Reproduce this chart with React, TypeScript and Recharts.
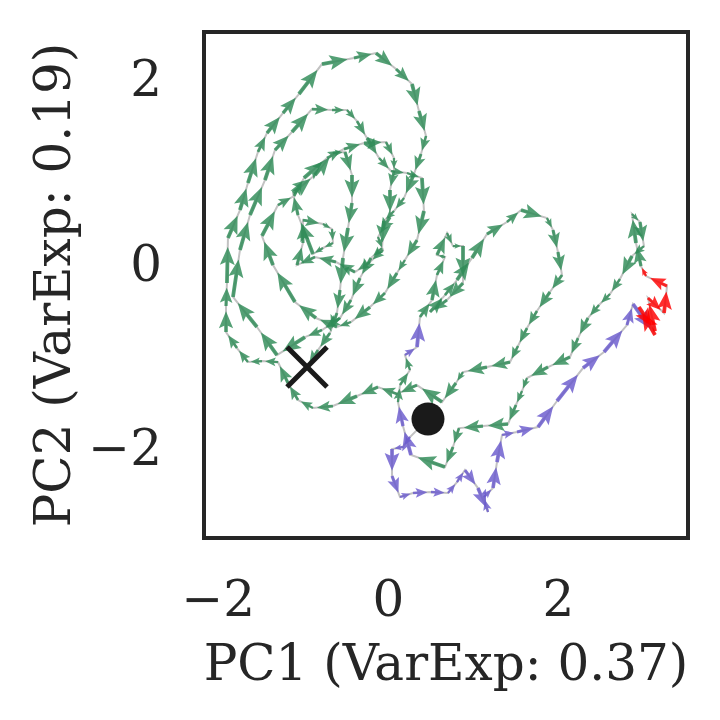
import React from 'react';
import { ScatterChart, Scatter, XAxis, YAxis, ReferenceArea } from 'recharts';

// trajectory in PC space (start = first point, end = last point)
const PC1 = [
  0.467, 0.255, 0.173, 0.044, 0.044, 0.138, 0.291, 0.502, 0.702, 0.808,
  0.902, 1.055, 1.173, 1.126, 1.232, 1.279, 1.338, 1.514, 1.761, 1.985,
  2.291, 2.538, 2.808, 2.879, 3.138, 2.949, 3.138, 3.055, 3.244, 3.279,
  3.032, 2.973,
  2.914, 2.867, 2.961, 3.008, 2.867, 2.726, 2.608, 2.479, 2.349, 2.232,
  2.138, 1.879, 1.632, 1.573, 1.502, 1.408, 1.114, 0.832, 0.761, 0.667,
  0.267, 0.173, 0.114, 0.138, 0.255, 0.196, 0.338, 0.373, 0.514, 0.573,
  0.667, 0.573, 0.691, 0.761, 0.879, 0.879, 0.691, 0.491, 0.667, 0.808,
  0.985, 1.161, 1.396, 1.561, 1.867, 1.938, 1.996, 2.044, 1.902, 1.749,
  1.632, 1.526, 1.432, 1.161, 0.879, 0.796, 0.632, 0.338, 0.102, -0.121,
  -0.368, -0.651, -0.886, -1.062, -1.18, -1.298, -1.486, -1.651, -1.78, -1.909,
  -1.909, -1.898, -1.886, -1.745, -1.651, -1.533, -1.427, -1.239, -1.051, -0.78,
  -0.404, -0.145, 0.091, 0.279, 0.361, 0.444, 0.385, 0.302, 0.185, 0.067,
  -0.051, -0.074, -0.204, -0.333, -0.439, -0.568, -0.78, -0.98, -1.309, -1.545,
  -1.827, -1.745, -1.627, -1.451, -1.333, -1.133, -0.898, -0.662, -0.486, -0.368,
  -0.251, -0.109, 0.032, 0.22, 0.396, 0.42, 0.338, 0.196, 0.102, -0.039,
  -0.215, -0.439, -0.604, -0.851, -1.098, -1.356, -1.486, -1.298, -1.109, -0.992,
  -0.721, -0.521, -0.286, -0.027, 0.067, 0.067, 0.02, 0.02, -0.121, -0.062,
  -0.215, -0.392, -0.615, -0.862, -1.074, -1.004, -1.004, -0.768, -0.662, -0.651,
  -0.768, -0.886, -1.062, -1.121, -0.862, -0.651, -0.509, -0.427, -0.427, -0.474,
  -0.533, -0.568, -0.604, -0.686, -0.827, -0.956,
];

const PC2 = [
  -1.69, -1.885, -1.993, -2.015, -2.308, -2.535, -2.492, -2.481, -2.492, -2.373,
  -2.243, -2.438, -2.698, -2.535, -2.438, -2.156, -1.863, -1.831, -1.777, -1.495,
  -1.138, -0.964, -0.672, -0.444, -0.78, -0.477, -0.737, -0.379, -0.542, -0.249,
  -0.141, -0.033,
  0.217, 0.531, 0.444, 0.184, 0.076, -0.173, -0.336, -0.455, -0.596, -0.813,
  -1.018, -1.127, -1.246, -1.387, -1.538, -1.744, -1.766, -1.788, -1.993, -2.21,
  -2.08, -1.766, -1.506, -1.322, -1.159, -0.997, -0.91, -0.585, -0.401, -0.13,
  0.065, 0.087, 0.325, 0.184, 0.184, -0.217, -0.401, -0.531, -0.347, -0.184,
  0.054, 0.314, 0.444, 0.574, 0.488, 0.358, 0.119, -0.13, -0.314, -0.52,
  -0.704, -0.899, -1.073, -1.127, -1.181, -1.3, -1.506, -1.322, -1.419, -1.343,
  -1.441, -1.549, -1.571, -1.484, -1.3, -1.073, -1.062, -1.073, -0.921, -0.748,
  -0.466, -0.217, 0.271, 0.574, 0.867, 1.203, 1.408, 1.625, 1.831, 2.156,
  2.221, 2.275, 2.102, 1.939, 1.647, 1.376, 1.181, 0.964, 0.704, 0.563,
  0.455, 0.163, 0.054, -0.163, -0.401, -0.596, -0.726, -0.802, -0.997, -0.693,
  -0.368, 0.141, 0.52, 0.899, 1.224, 1.419, 1.668, 1.658, 1.658, 1.538,
  1.354, 1.138, 0.997, 0.975, 0.921, 0.563, 0.249, 0.033, -0.108, -0.325,
  -0.477, -0.639, -0.693, -0.596, -0.423, -0.022, 0.293, 0.628, 0.726, 0.921,
  1.138, 1.235, 1.3, 1.311, 1.138, 0.997, 0.791, 0.498, 0.282, 0.141,
  0.011, -0.098, 0.011, 0.065, -0.022, 0.217, 0.466, 0.423, 0.368, 0.217,
  0.163, 0.098, 0.52, 0.758, 0.953, 1.192, 1.203, 0.953, 0.65, 0.379,
  0.054, -0.293, -0.542, -0.758, -0.943, -1.127,
];

// state label of each point, as runs: [state, count]
const STATE_RUNS: [string, number][] = [
  ['p', 24], ['r', 7], ['g', 21], ['p', 2], ['g', 3], ['p', 2], ['g', 139],
];

const X_DOMAIN = [-2.168, 3.526];
const Y_DOMAIN = [-2.979, 2.503];
const X_TICKS = [-2, 0, 2];
const Y_TICKS = [-2, 0, 2];

const COLORS: Record<string, string> = { g: '#2e8b57', p: '#6a5acd', r: '#ff0000' };
const TEXT = '#262626';

const W = 720;
const H = 720;
const MARGIN = { top: 32, right: 32, bottom: 32, left: 24 };
const Y_AXIS_W = 180;
const X_AXIS_H = 150;
const PLOT_W = W - MARGIN.left - MARGIN.right - Y_AXIS_W;
const PLOT_H = H - MARGIN.top - MARGIN.bottom - X_AXIS_H;
const KX = PLOT_W / (X_DOMAIN[1] - X_DOMAIN[0]);
const KY = PLOT_H / (Y_DOMAIN[1] - Y_DOMAIN[0]);
const ARROW_FRAC = 0.8;

const STATES: string[] = STATE_RUNS.flatMap(([s, n]) => Array(n).fill(s));

const path = PC1.map((x, i) => {
  const last = i === PC1.length - 1;
  return {
    x,
    y: PC2[i],
    dx: last ? 0 : PC1[i + 1] - x,
    dy: last ? 0 : PC2[i + 1] - PC2[i],
    state: STATES[i],
    arrow: !last && i > 0,
  };
});

const start = [{ x: PC1[0], y: PC2[0] }];
const end = [{ x: PC1[PC1.length - 1], y: PC2[PC2.length - 1] }];

const fmt = (v: number) => (v < 0 ? '\u2212' + Math.abs(v) : String(v));

// quiver style arrow from the point towards the next one
function renderArrow(props: any) {
  const { cx, cy, payload } = props;
  if (!payload || !payload.arrow) return <g />;
  const vx = payload.dx * KX * ARROW_FRAC;
  const vy = -payload.dy * KY * ARROW_FRAC;
  const len = Math.hypot(vx, vy);
  if (len < 0.5) return <g />;
  const ux = vx / len;
  const uy = vy / len;
  const nx = -uy;
  const ny = ux;
  const s = Math.min(1, len / 22);
  const w = (3.8 * Math.max(s, 0.6)) / 2;
  const hl = 18 * s;
  const hw = 7.5 * s;
  const pt = (d: number, o: number) => `${cx + ux * d + nx * o},${cy + uy * d + ny * o}`;
  const pts = [
    pt(0, w), pt(len - hl * 0.85, w), pt(len - hl, hw), pt(len, 0),
    pt(len - hl, -hw), pt(len - hl * 0.85, -w), pt(0, -w),
  ].join(' ');
  return <polygon points={pts} fill={COLORS[payload.state]} fillOpacity={0.82} />;
}

function renderDot(props: any) {
  return <circle cx={props.cx} cy={props.cy} r={16.5} fill="#1a1a1a" />;
}

function renderCross(props: any) {
  const { cx, cy } = props;
  const h = 20;
  return (
    <g stroke="#1a1a1a" strokeWidth={5}>
      <line x1={cx - h} y1={cy - h} x2={cx + h} y2={cy + h} />
      <line x1={cx - h} y1={cy + h} x2={cx + h} y2={cy - h} />
    </g>
  );
}

export default function App() {
  return (
    <div style={{ position: 'absolute', left: 0, top: 0, width: W, height: H, background: '#fff', fontFamily: '"DejaVu Serif", serif' }}>
      <ScatterChart width={W} height={H} margin={MARGIN}>
        <XAxis
          type="number"
          dataKey="x"
          domain={X_DOMAIN}
          ticks={X_TICKS}
          allowDataOverflow
          axisLine={false}
          tickLine={false}
          tickSize={6}
          tickMargin={36}
          height={X_AXIS_H}
          tick={{ fontSize: 50, fill: TEXT }}
          tickFormatter={fmt}
          label={{ value: 'PC1 (VarExp: 0.37)', position: 'insideBottom', offset: 8, fontSize: 50, fill: TEXT }}
        />
        <YAxis
          type="number"
          dataKey="y"
          domain={Y_DOMAIN}
          ticks={Y_TICKS}
          allowDataOverflow
          axisLine={false}
          tickLine={false}
          tickSize={6}
          tickMargin={36}
          width={Y_AXIS_W}
          tick={{ fontSize: 50, fill: TEXT }}
          tickFormatter={fmt}
          label={{ value: 'PC2 (VarExp: 0.19)', angle: -90, position: 'insideLeft', offset: 28, fontSize: 50, fill: TEXT, style: { textAnchor: 'middle' } }}
        />
        <ReferenceArea
          x1={X_DOMAIN[0]}
          x2={X_DOMAIN[1]}
          y1={Y_DOMAIN[0]}
          y2={Y_DOMAIN[1]}
          fill="none"
          stroke={TEXT}
          strokeWidth={4}
          ifOverflow="visible"
        />
        <Scatter
          data={path}
          shape={renderArrow}
          line={{ stroke: '#c2c2c2', strokeWidth: 2 }}
          lineType="joint"
          isAnimationActive={false}
        />
        <Scatter data={start} shape={renderDot} isAnimationActive={false} />
        <Scatter data={end} shape={renderCross} isAnimationActive={false} />
      </ScatterChart>
    </div>
  );
}
